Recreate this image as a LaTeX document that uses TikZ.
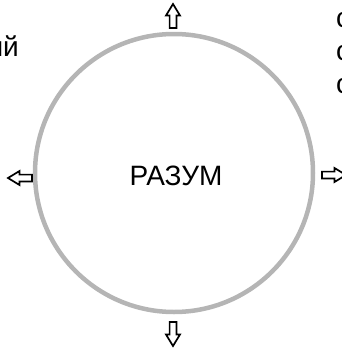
\documentclass[tikz,border=0pt]{standalone}
\usepackage{fontspec}
\setmainfont{Liberation Sans}
\definecolor{ringgray}{HTML}{B5B5B5}
\begin{document}
\begin{tikzpicture}[x=1pt,y=-1pt,
  ring/.style={circle, draw=ringgray, line width=4.5pt, minimum size=278pt, inner sep=0pt},
  bigtext/.style={font=\fontsize{28}{35}\selectfont, inner sep=0pt},
  hollowarrow/.pic={\draw[line width=1.7pt, line join=miter, fill=white]
     (-3.4,12) -- (3.4,12) -- (3.4,-0.5) -- (7,-0.5) -- (0,-12) -- (-7,-0.5) -- (-3.4,-0.5) -- cycle;}]
\useasboundingbox (0,0) rectangle (342,349);
\node[ring] (circ) at (174,173) {};
\node[bigtext] (title) at (176,176) {РАЗУМ};
\node[bigtext, anchor=base east] (lefttext) at (19,56) {ий};
\node[bigtext, anchor=base west] (r1) at (336,27) {с};
\node[bigtext, anchor=base west] (r2) at (336,60) {с};
\node[bigtext, anchor=base west] (r3) at (336,93) {с};
\pic (up) at (173,16) {hollowarrow};
\pic[rotate=180] (down) at (173,334) {hollowarrow};
\pic[rotate=90] (left) at (20,178) {hollowarrow};
\pic[rotate=-90] (right) at (334,175) {hollowarrow};
\end{tikzpicture}
\end{document}
